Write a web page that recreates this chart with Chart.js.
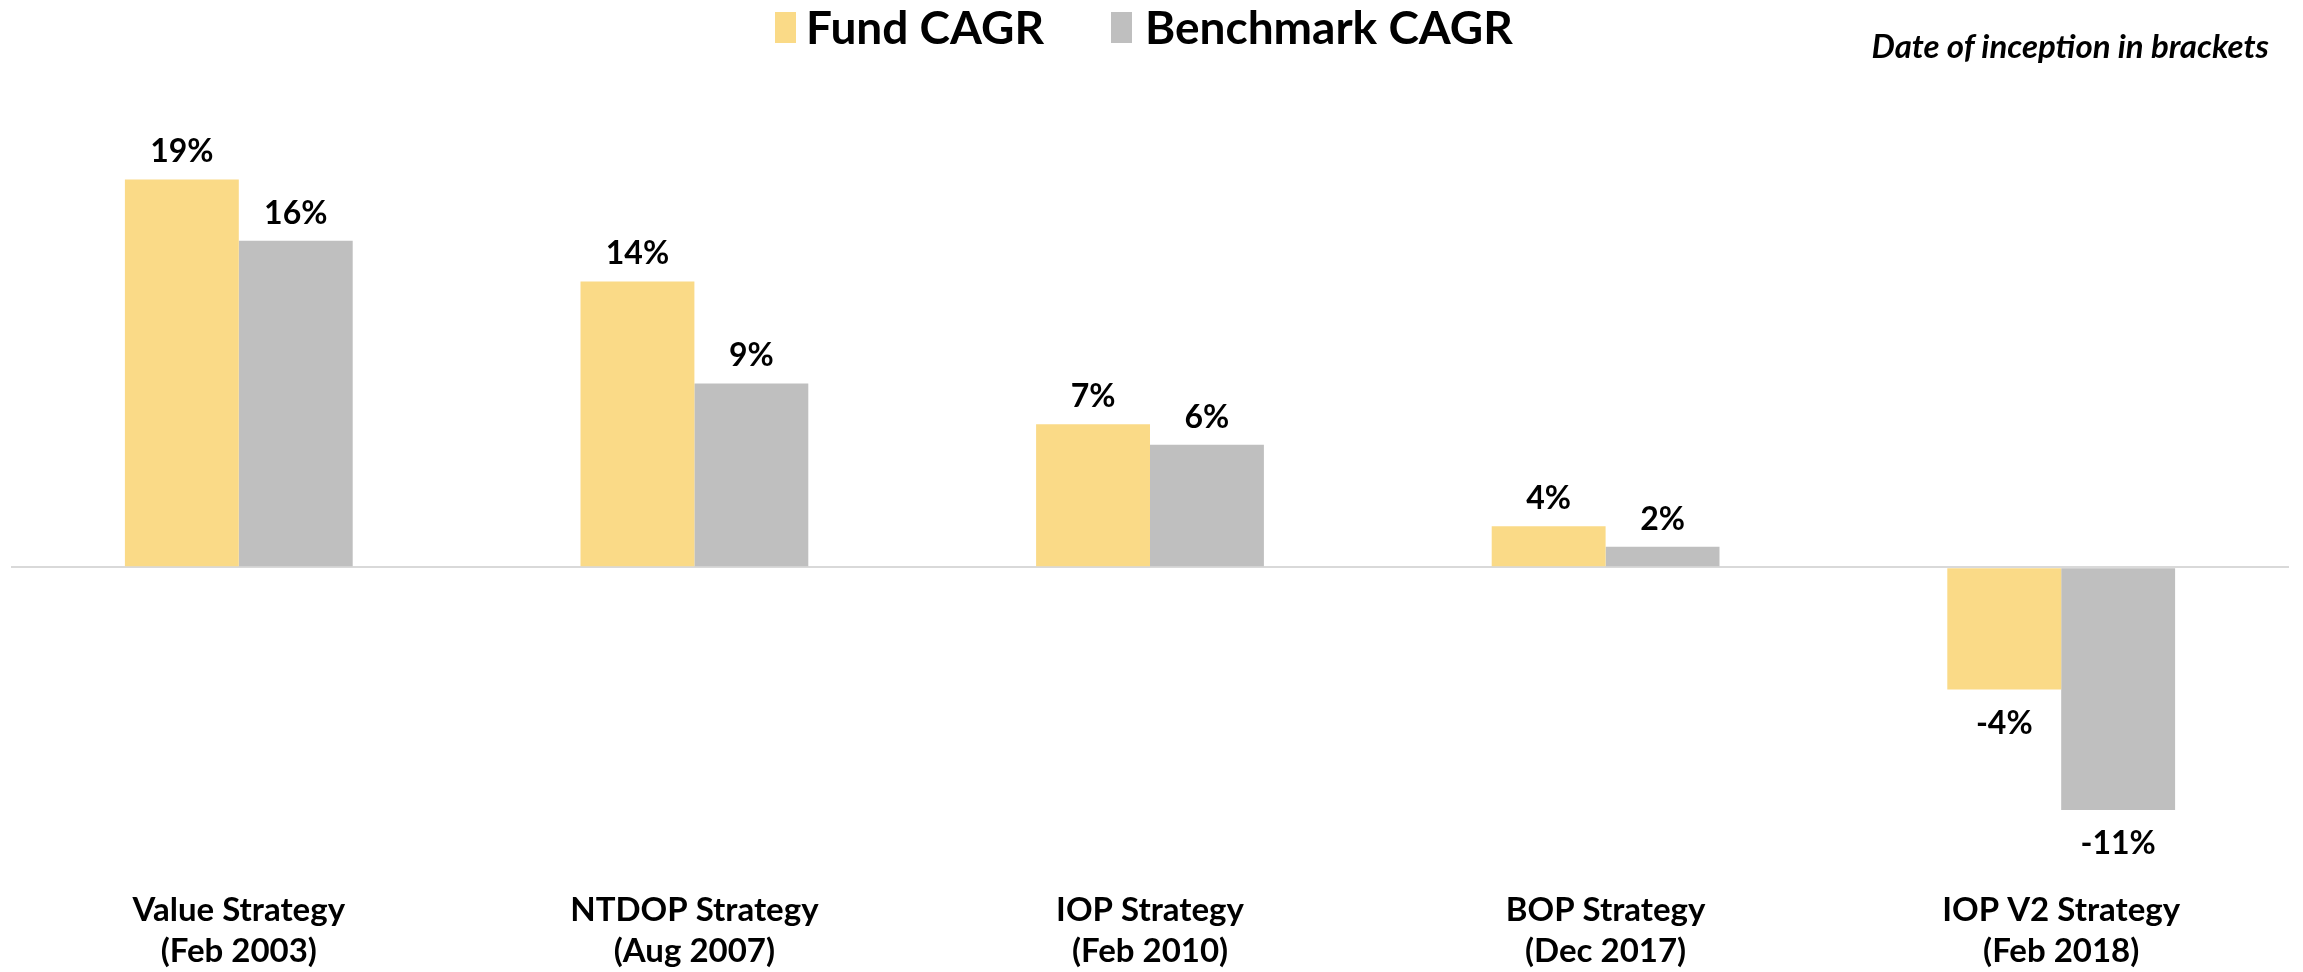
<!DOCTYPE html>
<html>
<head>
<meta charset="utf-8">
<script src="https://cdn.jsdelivr.net/npm/chart.js"></script>
<style>
  body { margin: 0; background: #fff; font-family: Lato, "Open Sans", sans-serif; }
  #wrap { position: relative; width: 2303px; height: 972px; }
  .legend-box { position: absolute; width: 21px; height: 31px; top: 12px; }
  .legend-text { position: absolute; top: 4px; font-size: 46px; font-weight: bold; color: #000; line-height: 46px; }
  #note { position: absolute; right: 34px; top: 26px; font-size: 33px; font-weight: bold; font-style: italic; color: #000; line-height: 38px; }
</style>
</head>
<body>
<div id="wrap">
  <canvas id="myChart"></canvas>
  <div class="legend-box" style="left:775px; background:#FADA87"></div>
  <div class="legend-text" style="left:806px">Fund CAGR</div>
  <div class="legend-box" style="left:1111px; background:#BFBFBF"></div>
  <div class="legend-text" style="left:1145px">Benchmark CAGR</div>
  <div id="note">Date of inception in brackets</div>
</div>
<script>
// categories (two lines each)
const categories = [
    ['Value Strategy', '(Feb 2003)'],
    ['NTDOP Strategy', '(Aug 2007)'],
    ['IOP Strategy', '(Feb 2010)'],
    ['BOP Strategy', '(Dec 2017)'],
    ['IOP V2 Strategy', '(Feb 2018)']
];

// bar heights
const fundValues = [19, 14, 7, 2, -6];
const benchValues = [16, 9, 6, 1, -11.9];

// the printed labels (some differ from bar heights in the original)
const fundLabels = ['19%', '14%', '7%', '4%', '-4%'];
const benchLabels = ['16%', '9%', '6%', '2%', '-11%'];

const seriesNames = ['Fund CAGR', 'Benchmark CAGR'];

// draws the % labels above / below each bar
const barLabels = {
    id: 'barLabels',
    afterDatasetsDraw(chart) {
        const c = chart.ctx;
        const allLabels = [fundLabels, benchLabels];
        c.save();
        c.font = 'bold 32px Lato, "Open Sans", sans-serif';
        c.fillStyle = '#000';
        c.textAlign = 'center';
        c.textBaseline = 'alphabetic';
        chart.data.datasets.forEach((ds, i) => {
            const meta = chart.getDatasetMeta(i);
            meta.data.forEach((bar, j) => {
                const v = ds.data[j];
                const y = v >= 0 ? bar.y - 17 : bar.y + 44;
                c.fillText(allLabels[i][j], bar.x, y);
            });
        });
        c.restore();
    }
};

const ctx = document.querySelector('#myChart').getContext('2d');
const myChart = new Chart(ctx, {
    type: 'bar',
    data: {
        labels: categories,
        datasets: [{
            label: seriesNames[0],
            data: fundValues,
            backgroundColor: '#FADA87',
            borderWidth: 0
        }, {
            label: seriesNames[1],
            data: benchValues,
            backgroundColor: '#BFBFBF',
            borderWidth: 0
        }]
    },
    options: {
        responsive: true,
        maintainAspectRatio: false,
        animation: false,
        categoryPercentage: 0.5,
        barPercentage: 1,
        layout: {
            padding: { left: 11, right: 14, top: 159, bottom: 0 }
        },
        plugins: {
            legend: { display: false },
            tooltip: { enabled: false }
        },
        scales: {
            x: {
                grid: { display: false, drawTicks: false },
                border: { display: false },
                ticks: {
                    padding: 0,
                    color: '#000',
                    maxRotation: 0,
                    autoSkip: false,
                    font: { family: 'Lato, "Open Sans", sans-serif', size: 33, weight: 'bold', lineHeight: 1.24 }
                }
            },
            y: {
                min: -15.83,
                max: 20,
                border: { display: false },
                ticks: { display: false, stepSize: 5 },
                grid: {
                    drawTicks: false,
                    lineWidth: 2,
                    color: (c) => c.tick && c.tick.value === 0 ? '#D9D9D9' : 'rgba(0,0,0,0)'
                }
            }
        }
    },
    plugins: [barLabels]
});
</script>
</body>
</html>
